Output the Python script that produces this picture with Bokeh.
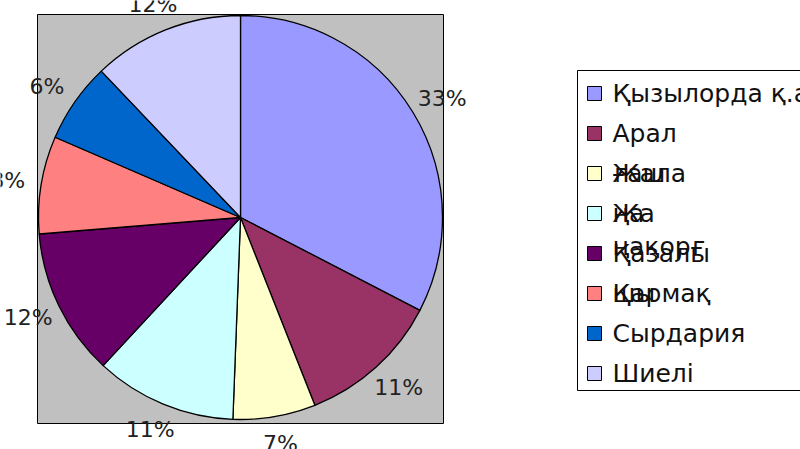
import numpy as np
from bokeh.plotting import figure
from bokeh.models import Range1d, ColumnDataSource
from bokeh.core.properties import value
from bokeh.embed import file_html
from bokeh.resources import INLINE

# ---- data ----
districts = ["Қызылорда қ.а", "Арал", "Жалағаш", "Жаңақорған", "Қазалы", "Қармақшы", "Сырдария", "Шиелі"]
shares = [32.6, 11.4, 6.6, 11.3, 11.8, 7.8, 6.4, 12.1]
colors = ["#9999ff", "#993366", "#ffffcc", "#ccffff", "#660066", "#ff8080", "#0066cc", "#ccccff"]
# legend text pieces as rendered (wrapped lines overlapping)
legend_lines = [["Қызылорда қ.а"], ["Арал"], ["Жала", "ғаш"], ["Жа", "ңа"], ["Қазалы"], ["Қармақ", "шы"], ["Сырдария"], ["Шиелі"]]

W, H = 800, 449
H_PAGE = 449
p = figure(width=W, height=H, output_backend="svg", toolbar_location=None,
           x_range=Range1d(0, W), y_range=Range1d(H_PAGE - H, H_PAGE),
           min_border=0)
p.axis.visible = False
p.grid.visible = False
p.outline_line_color = None
p.background_fill_color = "white"

def Y(ys):
    return H_PAGE - ys

FONT = value("DejaVu Sans")

# grey plot area
p.quad(left=37, right=443, top=Y(14), bottom=Y(423), fill_color="#c0c0c0", line_color="black", line_width=1)

# pie
cx, cy, r = 240, Y(217), 202
vals = np.array(shares, dtype=float)
frac = vals / vals.sum()
theta_end = np.cumsum(frac) * 2 * np.pi
theta_start = theta_end - frac * 2 * np.pi
src = ColumnDataSource(dict(start=np.pi / 2 - theta_end, end=np.pi / 2 - theta_start, color=colors))
p.wedge(x=cx, y=cy, radius=r, start_angle="start", end_angle="end", fill_color="color",
        line_color="black", line_width=1.3, source=src)

# percentage labels
mid = (theta_start + theta_end) / 2
Rx, Ry = 236, 229
lbl = [f"{int(round(v))}%" for v in vals]
p.text(x=cx + Rx * np.sin(mid), y=cy + Ry * np.cos(mid), text=lbl, text_align="center",
       text_baseline="middle", text_font=FONT, text_font_size="22px", text_color="#222222")

# legend
p.quad(left=577, right=1000, top=Y(70), bottom=Y(390), fill_color="white", line_color="black", line_width=1)
item_y = Y(93 + 40 * np.arange(len(districts)))
p.rect(x=594, y=item_y, width=14, height=14, fill_color=colors, line_color="black", line_width=1)
tx, ty = [], []
for i, lines in enumerate(legend_lines):
    for t in lines:
        tx.append(t)
        ty.append(item_y[i])
# overflowing third line of item 4
tx.append("ңақорғ")
ty.append(item_y[4] + 7)
p.text(x=612, y=ty, text=tx, text_align="left", text_baseline="middle", text_font=FONT,
       text_font_size="25px", text_color="#111111")

open("out.html", "w").write(file_html(p, INLINE))
